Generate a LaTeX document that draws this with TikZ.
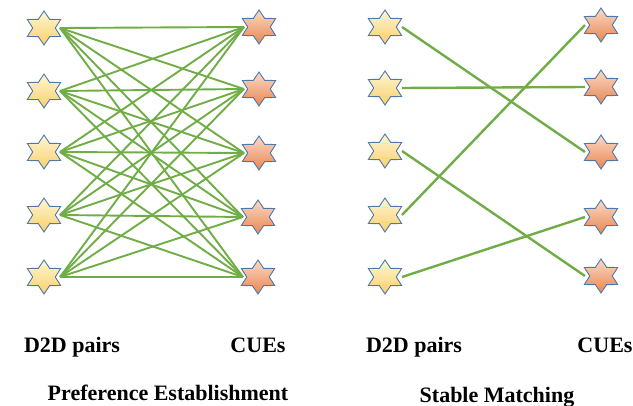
\documentclass[tikz,border=0pt]{standalone}
\usepackage{fontspec}
\setmainfont{Liberation Serif}
\usetikzlibrary{shapes.geometric}
\pgfdeclarelayer{bg}
\pgfsetlayers{bg,main}
\definecolor{starline}{HTML}{4E78AA}
\definecolor{ylight}{HTML}{FFF6D6}
\definecolor{ydark}{HTML}{F8D168}
\definecolor{olight}{HTML}{FBD9C6}
\definecolor{odark}{HTML}{EA8650}
\definecolor{lgreen}{HTML}{70AD47}
\tikzset{
  starbase/.style={shape=star, star points=6, star point ratio=1.7, minimum size=34pt, inner sep=0pt, draw=starline, line width=0.9pt, transform shape, xscale=1.13},
  ystar/.style={starbase, top color=ylight, bottom color=ydark},
  ostar/.style={starbase, top color=olight, bottom color=odark},
  link/.style={draw=lgreen, line width=1.9pt},
  boldlink/.style={draw=lgreen, line width=2.4pt},
  lbl/.style={font=\fontsize{22}{26}\selectfont\bfseries, anchor=base, inner sep=0pt}
}
\begin{document}
\begin{tikzpicture}[x=1pt,y=-1pt]
\useasboundingbox (0,0) rectangle (633,406);
% left panel
\node[ystar] (L1) at (44,28) {};
\node[ystar] (L2) at (44,91) {};
\node[ystar] (L3) at (44,152) {};
\node[ystar] (L4) at (44,215) {};
\node[ystar] (L5) at (44,277) {};
\node[ostar] (R1) at (259,27) {};
\node[ostar] (R2) at (259,89) {};
\node[ostar] (R3) at (259,153) {};
\node[ostar] (R4) at (258,217) {};
\node[ostar] (R5) at (258,277) {};
\begin{pgfonlayer}{bg}
\foreach \i in {1,...,5}{
  \foreach \j in {1,...,5}{
    \draw[link] ([xshift=16pt]L\i.center) -- ([xshift=-15pt]R\j.center);
  }
}
\end{pgfonlayer}
% right panel
\node[ystar] (M1) at (385,27) {};
\node[ystar] (M2) at (385,88) {};
\node[ystar] (M3) at (385,151) {};
\node[ystar] (M4) at (385,215) {};
\node[ystar] (M5) at (385,277) {};
\node[ostar] (N1) at (601,25) {};
\node[ostar] (N2) at (601,87) {};
\node[ostar] (N3) at (601,152) {};
\node[ostar] (N4) at (601,217) {};
\node[ostar] (N5) at (601,276) {};
\begin{pgfonlayer}{bg}
\draw[boldlink] ([xshift=17pt]M1.center) -- ([xshift=-16pt]N3.center);
\draw[boldlink] ([xshift=17pt]M2.center) -- ([xshift=-16pt]N2.center);
\draw[boldlink] ([xshift=17pt]M3.center) -- ([xshift=-16pt]N5.center);
\draw[boldlink] ([xshift=17pt]M4.center) -- ([xshift=-16pt]N1.center);
\draw[boldlink] ([xshift=17pt]M5.center) -- ([xshift=-16pt]N4.center);
\end{pgfonlayer}
% labels
\node[lbl] (t1) at (72,353) {D2D pairs};
\node[lbl] (t2) at (258,353) {CUEs};
\node[lbl] (t3) at (168,401) {Preference Establishment};
\node[lbl] (t4) at (414,353) {D2D pairs};
\node[lbl] (t5) at (605,353) {CUEs};
\node[lbl] (t6) at (497,403) {Stable Matching};
\end{tikzpicture}
\end{document}
